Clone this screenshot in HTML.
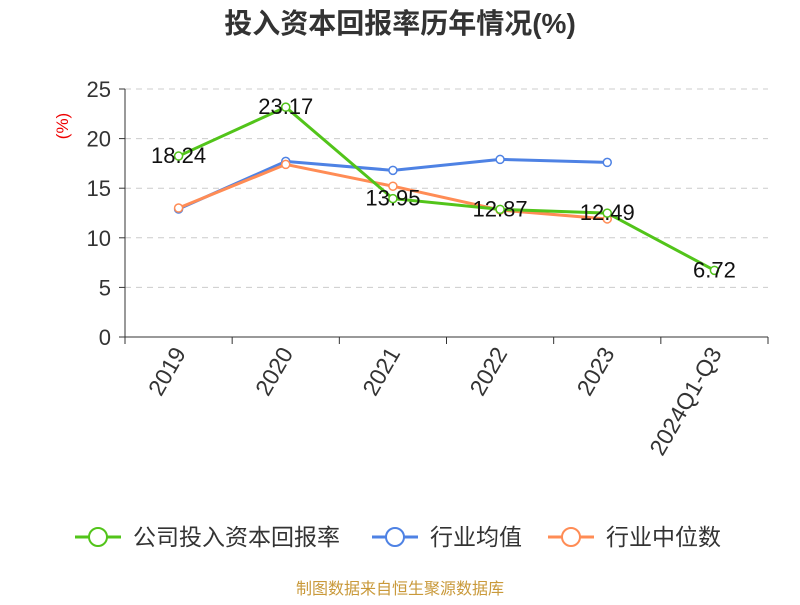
<!DOCTYPE html>
<html><head><meta charset="utf-8"><style>
body{margin:0;background:#fff;}
svg text{font-family:"Liberation Sans","Noto Sans CJK SC",sans-serif;}
</style></head><body>
<svg width="800" height="600" id="c">
<text x="400" y="33" text-anchor="middle" font-size="28" font-weight="bold" fill="#333">投入资本回报率历年情况(%)</text>
<text x="0" y="0" transform="translate(68,126) rotate(-90)" text-anchor="middle" font-size="17" fill="#e00">(%)</text>
<g id="grid"></g><g id="axes"></g><g id="series"></g><g id="labels"></g>
<g>
<g><line x1="75" y1="537" x2="121" y2="537" stroke="#52c41a" stroke-width="3"/><circle cx="98" cy="537" r="9" fill="#fff" stroke="#52c41a" stroke-width="2"/><text x="133" y="545" font-size="23" fill="#333">公司投入资本回报率</text></g>
<g><line x1="372" y1="537" x2="418" y2="537" stroke="#4e82e4" stroke-width="3"/><circle cx="395" cy="537" r="9" fill="#fff" stroke="#4e82e4" stroke-width="2"/><text x="430" y="545" font-size="23" fill="#333">行业均值</text></g>
<g><line x1="548" y1="537" x2="594" y2="537" stroke="#ff8c55" stroke-width="3"/><circle cx="571" cy="537" r="9" fill="#fff" stroke="#ff8c55" stroke-width="2"/><text x="606" y="545" font-size="23" fill="#333">行业中位数</text></g>
</g>
<text x="400" y="594" text-anchor="middle" font-size="16" fill="#c9993a">制图数据来自恒生聚源数据库</text>
</svg>
<script>
const categories=["2019","2020","2021","2022","2023","2024Q1-Q3"];
const companyValues=[18.24,23.17,13.95,12.87,12.49,6.72];
const meanValues=[12.9,17.7,16.8,17.9,17.6];
const medianValues=[13.0,17.4,15.2,12.8,11.9];
const yTicks=[0,5,10,15,20,25];
const NS="http://www.w3.org/2000/svg";
const L=125,R=768,T=89,B=337,yMax=25;
const bw=(R-L)/categories.length;
const xs=i=>L+bw*(i+0.5);
const ys=v=>B-(v/yMax)*(B-T);
function mk(tag,attrs,parent){const e=document.createElementNS(NS,tag);for(const k in attrs)e.setAttribute(k,attrs[k]);document.getElementById(parent).appendChild(e);return e;}
yTicks.forEach(t=>{
 if(t>0){const g=mk('line',{x1:L,x2:R,y1:ys(t),y2:ys(t),stroke:'#ccc','stroke-dasharray':'6,5'},'grid');
 
 }
 const tk=mk('line',{x1:L-6,x2:L,y1:ys(t),y2:ys(t),stroke:'#333'},'axes');
 
 
 const tx=mk('text',{x:L-14,y:ys(t)+8,'text-anchor':'end','font-size':22,fill:'#333'},'axes');
 tx.textContent=t;
 
 
});
const ya=mk('line',{x1:L,x2:L,y1:T,y2:B,stroke:'#333'},'axes');


const xa=mk('line',{x1:L,x2:R,y1:B,y2:B,stroke:'#333'},'axes');


for(let i=0;i<=categories.length;i++){
 const tk=mk('line',{x1:L+bw*i,x2:L+bw*i,y1:B,y2:B+7,stroke:'#333'},'axes');
 
 
}
categories.forEach((c,i)=>{
 const tx=mk('text',{transform:`translate(${xs(i)+8},${B+16}) rotate(-60)`,'text-anchor':'end','font-size':23,fill:'#333'},'axes');
 tx.textContent=c;
 
 
});
function series(vals,color,name){
 const p=mk('polyline',{points:vals.map((v,i)=>xs(i)+','+ys(v)).join(' '),fill:'none',stroke:color,'stroke-width':3},'series');
 
 
 vals.forEach((v,i)=>{
  const c=mk('circle',{cx:xs(i),cy:ys(v),r:4,fill:'#fff',stroke:color,'stroke-width':1.5},'series');
  
  
 });
}
series(meanValues,'#4e82e4','industry-mean');
series(medianValues,'#ff8c55','industry-median');
series(companyValues,'#52c41a','company');
companyValues.forEach((v,i)=>{
 const tx=mk('text',{x:xs(i),y:ys(v)+7,'text-anchor':'middle','font-size':22,fill:'#111'},'labels');
 tx.textContent=v.toFixed(2);
 
 
});
</script>
</body></html>
